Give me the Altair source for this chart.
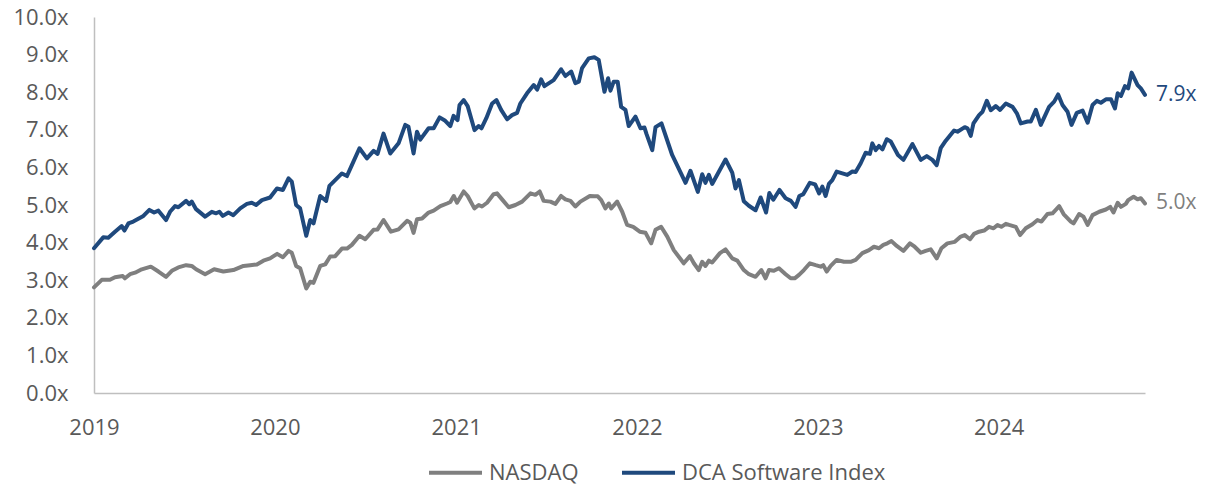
import altair as alt
import pandas as pd

# ---------------- data ----------------
# time in decimal years, value = multiple
dca_t = [2019.000, 2019.051, 2019.079, 2019.116, 2019.153, 2019.168, 2019.190, 2019.217, 2019.273, 2019.306,
         2019.332, 2019.356, 2019.398, 2019.420, 2019.448, 2019.466, 2019.509, 2019.527, 2019.540, 2019.564,
         2019.614, 2019.651, 2019.675, 2019.693, 2019.712, 2019.743, 2019.770, 2019.808, 2019.845, 2019.872,
         2019.896, 2019.928, 2019.973, 2020.011, 2020.044, 2020.075, 2020.093, 2020.117, 2020.139, 2020.173,
         2020.195, 2020.213, 2020.250, 2020.283, 2020.301, 2020.370, 2020.398, 2020.425, 2020.467, 2020.508,
         2020.545, 2020.567, 2020.600, 2020.637, 2020.683, 2020.720, 2020.738, 2020.766, 2020.785, 2020.803,
         2020.849, 2020.877, 2020.910, 2020.941, 2020.969, 2020.987, 2021.009, 2021.020, 2021.043, 2021.065,
         2021.103, 2021.126, 2021.141, 2021.168, 2021.200, 2021.224, 2021.250, 2021.283, 2021.310, 2021.338,
         2021.356, 2021.393, 2021.430, 2021.449, 2021.471, 2021.489, 2021.540, 2021.581, 2021.605, 2021.637,
         2021.660, 2021.679, 2021.697, 2021.734, 2021.765, 2021.789, 2021.821, 2021.841, 2021.854, 2021.872,
         2021.894, 2021.913, 2021.937, 2021.955, 2021.992, 2022.020, 2022.042, 2022.053, 2022.085, 2022.103,
         2022.136, 2022.195, 2022.269, 2022.296, 2022.337, 2022.361, 2022.379, 2022.398, 2022.416, 2022.490,
         2022.527, 2022.545, 2022.564, 2022.591, 2022.619, 2022.656, 2022.684, 2022.714, 2022.732, 2022.754,
         2022.788, 2022.822, 2022.851, 2022.877, 2022.898, 2022.920, 2022.956, 2022.985, 2023.007, 2023.025,
         2023.043, 2023.061, 2023.080, 2023.104, 2023.163, 2023.191, 2023.209, 2023.237, 2023.264, 2023.288,
         2023.301, 2023.320, 2023.338, 2023.357, 2023.381, 2023.403, 2023.443, 2023.473, 2023.523, 2023.569,
         2023.602, 2023.633, 2023.657, 2023.679, 2023.707, 2023.753, 2023.772, 2023.812, 2023.827, 2023.845,
         2023.860, 2023.891, 2023.910, 2023.934, 2023.956, 2023.983, 2024.007, 2024.039, 2024.076, 2024.100,
         2024.122, 2024.159, 2024.177, 2024.205, 2024.232, 2024.278, 2024.306, 2024.328, 2024.352, 2024.380,
         2024.402, 2024.431, 2024.463, 2024.491, 2024.518, 2024.542, 2024.564, 2024.592, 2024.620, 2024.642,
         2024.657, 2024.675, 2024.697, 2024.715, 2024.734, 2024.767, 2024.785, 2024.808]
dca_v = [3.85, 4.14, 4.13, 4.29, 4.44, 4.32, 4.51, 4.56, 4.71, 4.87,
         4.80, 4.85, 4.60, 4.82, 4.97, 4.94, 5.11, 5.02, 5.09, 4.89,
         4.69, 4.82, 4.78, 4.82, 4.71, 4.80, 4.73, 4.91, 5.03, 5.06,
         5.00, 5.13, 5.20, 5.44, 5.40, 5.71, 5.62, 5.00, 4.91, 4.18,
         4.60, 4.51, 5.24, 5.11, 5.51, 5.84, 5.77, 6.06, 6.51, 6.24,
         6.44, 6.36, 6.90, 6.37, 6.64, 7.13, 7.08, 6.37, 6.95, 6.74,
         7.04, 7.04, 7.33, 7.24, 7.10, 7.37, 7.26, 7.66, 7.79, 7.63,
         6.99, 7.10, 7.04, 7.31, 7.70, 7.79, 7.53, 7.28, 7.39, 7.45,
         7.70, 7.97, 8.19, 8.07, 8.34, 8.16, 8.32, 8.61, 8.43, 8.55,
         8.24, 8.28, 8.64, 8.90, 8.93, 8.86, 8.01, 8.37, 8.04, 8.28,
         8.28, 7.61, 7.53, 7.10, 7.35, 7.04, 7.06, 6.89, 6.46, 7.07,
         7.17, 6.33, 5.59, 5.91, 5.35, 5.82, 5.59, 5.80, 5.56, 6.21,
         5.86, 5.44, 5.66, 5.10, 4.98, 4.86, 5.20, 4.80, 5.32, 5.14,
         5.40, 5.18, 5.11, 4.95, 5.24, 5.29, 5.59, 5.55, 5.31, 5.49,
         5.24, 5.56, 5.66, 5.89, 5.80, 5.89, 5.88, 6.11, 6.39, 6.36,
         6.64, 6.46, 6.57, 6.48, 6.75, 6.69, 6.33, 6.20, 6.62, 6.20,
         6.30, 6.20, 6.06, 6.51, 6.71, 6.98, 6.95, 7.07, 7.04, 6.84,
         7.17, 7.39, 7.48, 7.77, 7.52, 7.63, 7.53, 7.70, 7.61, 7.44,
         7.17, 7.22, 7.22, 7.53, 7.13, 7.61, 7.75, 7.94, 7.66, 7.48,
         7.13, 7.45, 7.51, 7.19, 7.66, 7.77, 7.72, 7.81, 7.81, 7.57,
         7.97, 7.90, 8.16, 8.10, 8.52, 8.19, 8.10, 7.93]

ndq_t = [2019.000, 2019.043, 2019.088, 2019.116, 2019.159, 2019.171, 2019.199, 2019.227, 2019.264, 2019.314,
         2019.356, 2019.398, 2019.430, 2019.466, 2019.509, 2019.540, 2019.564, 2019.614, 2019.664, 2019.715,
         2019.770, 2019.826, 2019.863, 2019.900, 2019.936, 2019.973, 2020.012, 2020.044, 2020.075, 2020.093,
         2020.117, 2020.139, 2020.173, 2020.195, 2020.213, 2020.250, 2020.278, 2020.305, 2020.333, 2020.370,
         2020.398, 2020.425, 2020.467, 2020.499, 2020.545, 2020.567, 2020.600, 2020.641, 2020.683, 2020.730,
         2020.748, 2020.766, 2020.785, 2020.813, 2020.849, 2020.877, 2020.914, 2020.951, 2020.969, 2020.988,
         2021.006, 2021.043, 2021.065, 2021.102, 2021.126, 2021.144, 2021.172, 2021.209, 2021.227, 2021.255,
         2021.292, 2021.329, 2021.366, 2021.412, 2021.439, 2021.463, 2021.485, 2021.522, 2021.550, 2021.581,
         2021.605, 2021.633, 2021.660, 2021.688, 2021.740, 2021.765, 2021.784, 2021.803, 2021.826, 2021.845,
         2021.858, 2021.891, 2021.919, 2021.946, 2021.980, 2022.016, 2022.048, 2022.079, 2022.103, 2022.134,
         2022.168, 2022.204, 2022.259, 2022.293, 2022.315, 2022.342, 2022.361, 2022.379, 2022.398, 2022.416,
         2022.459, 2022.490, 2022.527, 2022.555, 2022.591, 2022.619, 2022.656, 2022.688, 2022.711, 2022.730,
         2022.757, 2022.785, 2022.822, 2022.850, 2022.872, 2022.896, 2022.923, 2022.956, 2022.988, 2023.016,
         2023.030, 2023.049, 2023.071, 2023.104, 2023.144, 2023.181, 2023.209, 2023.246, 2023.283, 2023.310,
         2023.338, 2023.362, 2023.384, 2023.407, 2023.436, 2023.473, 2023.509, 2023.535, 2023.569, 2023.596,
         2023.624, 2023.657, 2023.683, 2023.716, 2023.757, 2023.790, 2023.812, 2023.841, 2023.863, 2023.891,
         2023.919, 2023.946, 2023.971, 2023.993, 2024.014, 2024.039, 2024.057, 2024.094, 2024.118, 2024.149,
         2024.186, 2024.214, 2024.236, 2024.269, 2024.297, 2024.334, 2024.358, 2024.398, 2024.413, 2024.444,
         2024.468, 2024.491, 2024.518, 2024.555, 2024.592, 2024.616, 2024.634, 2024.657, 2024.675, 2024.702,
         2024.715, 2024.745, 2024.767, 2024.785, 2024.808]
ndq_v = [2.81, 3.01, 3.01, 3.08, 3.11, 3.05, 3.16, 3.20, 3.29, 3.36,
         3.23, 3.09, 3.25, 3.34, 3.40, 3.38, 3.29, 3.16, 3.29, 3.23,
         3.27, 3.38, 3.40, 3.42, 3.52, 3.58, 3.70, 3.61, 3.78, 3.73,
         3.38, 3.32, 2.78, 2.96, 2.93, 3.38, 3.42, 3.63, 3.64, 3.84,
         3.84, 3.94, 4.18, 4.09, 4.34, 4.35, 4.60, 4.29, 4.35, 4.58,
         4.53, 4.26, 4.62, 4.64, 4.80, 4.85, 4.97, 5.04, 5.08, 5.24,
         5.06, 5.36, 5.24, 4.91, 5.00, 4.96, 5.06, 5.29, 5.31, 5.15,
         4.94, 5.00, 5.09, 5.31, 5.27, 5.36, 5.11, 5.09, 5.03, 5.24,
         5.15, 5.11, 4.96, 5.09, 5.24, 5.23, 5.23, 5.13, 4.91, 5.04,
         4.91, 5.09, 4.82, 4.47, 4.42, 4.29, 4.26, 3.98, 4.34, 4.42,
         4.16, 3.80, 3.45, 3.64, 3.45, 3.27, 3.49, 3.38, 3.52, 3.47,
         3.72, 3.82, 3.58, 3.52, 3.27, 3.16, 3.09, 3.27, 3.05, 3.27,
         3.25, 3.32, 3.16, 3.05, 3.05, 3.14, 3.27, 3.45, 3.40, 3.36,
         3.40, 3.23, 3.38, 3.54, 3.49, 3.49, 3.54, 3.72, 3.80, 3.89,
         3.85, 3.94, 3.98, 4.04, 3.91, 3.78, 3.98, 3.89, 3.73, 3.78,
         3.82, 3.58, 3.85, 3.98, 4.02, 4.16, 4.20, 4.09, 4.23, 4.29,
         4.32, 4.42, 4.38, 4.47, 4.42, 4.50, 4.47, 4.42, 4.20, 4.38,
         4.49, 4.60, 4.56, 4.76, 4.78, 4.97, 4.76, 4.56, 4.51, 4.76,
         4.69, 4.47, 4.73, 4.82, 4.88, 4.95, 4.80, 5.06, 4.95, 5.03,
         5.13, 5.22, 5.15, 5.18, 5.04]

series_names = ["NASDAQ", "DCA Software Index"]
series_colors = ["#7F7F7F", "#1F497D"]
year_ticks = [2019, 2020, 2021, 2022, 2023, 2024]
y_ticks = [0, 1, 2, 3, 4, 5, 6, 7, 8, 9, 10]

FONT = "Open Sans"
TEXT_COLOR = "#595959"


def to_dates(ts):
    base = pd.Timestamp("2019-01-01")
    return [base + pd.Timedelta(days=(t - 2019.0) * 365.25) for t in ts]


df = pd.concat([
    pd.DataFrame({"date": to_dates(ndq_t), "value": ndq_v, "series": series_names[0]}),
    pd.DataFrame({"date": to_dates(dca_t), "value": dca_v, "series": series_names[1]}),
], ignore_index=True)

last = df.groupby("series", sort=False).tail(1).copy()
last["label"] = last["value"].map(lambda v: f"{v:.1f}x")

color_scale = alt.Scale(domain=series_names, range=series_colors)

x_enc = alt.X(
    "date:T",
    scale=alt.Scale(nice=False),
    axis=alt.Axis(
        values=[alt.DateTime(year=y, month=1, date=1) for y in year_ticks],
        format="%Y", title=None, grid=False, ticks=False, tickSize=0,
        labelFont=FONT, labelFontSize=22, labelColor=TEXT_COLOR, labelPadding=24,
        labelFlush=False, labelOverlap=False, domainColor="#BFBFBF", domainWidth=1.5,
    ),
)
y_enc = alt.Y(
    "value:Q",
    scale=alt.Scale(domain=[0, 10], nice=False, zero=True),
    axis=alt.Axis(
        values=y_ticks, title=None, grid=False, ticks=False, tickSize=0,
        labelExpr="format(datum.value, '.1f') + 'x'",
        labelFont=FONT, labelFontSize=22, labelColor=TEXT_COLOR, labelPadding=26,
        labelOverlap=False, labelFlush=False, labelBound=False,
        domainColor="#BFBFBF", domainWidth=1.5,
    ),
)

lines = alt.Chart(df).mark_line(strokeWidth=4, strokeJoin="round", strokeCap="round").encode(
    x=x_enc,
    y=y_enc,
    color=alt.Color(
        "series:N", scale=color_scale, sort=series_names,
        legend=alt.Legend(
            orient="none", legendX=333, legendY=427, direction="horizontal", title=None,
            symbolType="stroke", symbolSize=2809, symbolStrokeWidth=4,
            labelFont=FONT, labelFontSize=22, labelColor=TEXT_COLOR, labelLimit=0,
            labelOffset=5, columnPadding=35,
        ),
    ),
    detail="series:N",
)

labels = alt.Chart(last).mark_text(
    align="left", baseline="middle", dx=11, font=FONT, fontSize=21
).encode(
    x=x_enc,
    y=y_enc,
    text="label:N",
    color=alt.Color("series:N", scale=color_scale, legend=None),
)

chart = alt.layer(lines, labels).properties(
    width=1051,
    height=376,
    padding={"left": 86, "top": 9, "right": 53, "bottom": 96},
    autosize=alt.AutoSizeParams(type="none"),
).configure_view(stroke=None).configure_axisY(labelOverlap=False)

chart.save("out.html", embed_options={"renderer": "svg", "actions": False})
